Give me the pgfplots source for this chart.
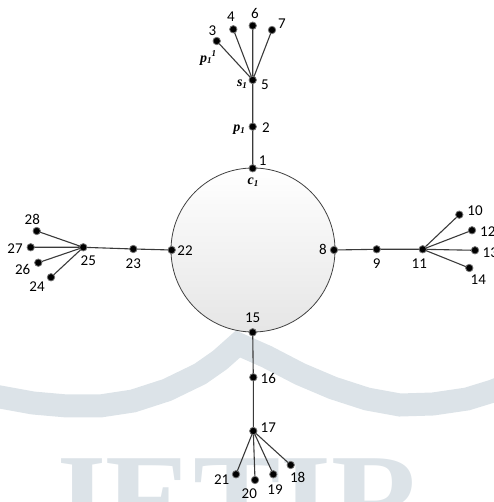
\documentclass[border=0pt]{standalone}
\usepackage{pgfplots}
\pgfplotsset{compat=1.18}
\usepackage{fontspec}
\setmainfont{Carlito}
\newfontfamily\serifit{Liberation Serif}
\definecolor{edge}{HTML}{3A3A3A}
\definecolor{wm}{HTML}{DCE3E8}
\newcommand{\lab}{\fontsize{15}{17}\selectfont}
\newcommand{\ilab}{\fontsize{14}{16}\selectfont\serifit\bfseries\itshape}
\newcommand{\sub}[1]{\raisebox{-0.25ex}{\fontsize{9}{10}\selectfont #1}}
\begin{document}
\begin{tikzpicture}
\begin{axis}[
  scale only axis, width=493pt, height=502pt,
  xmin=0, xmax=493, ymin=-502, ymax=0,
  hide axis, clip=false,
]
\path (rel axis cs:0,0) rectangle (rel axis cs:1,1);
% watermark band
\addplot[overlay, wm, line width=23pt, line join=miter, miter limit=10] coordinates {
 (-10,-395) (0,-397) (33,-403) (67,-406) (100,-406) (133,-401) (167,-390) (200,-374) (220,-360) (238,-344)
 (266.7,-356.7) (300,-374) (333,-388) (367,-399) (400,-405) (433,-404) (467,-399) (493,-391) (503,-387)};
\node[overlay, anchor=base west, text=wm, inner sep=0pt, font={\fontsize{131}{131}\selectfont\serifit\bfseries}] at (axis cs:40,-544) {JETIR};
% circle
\draw[black!75, line width=0.8pt, top color=white, bottom color=black!10] (axis cs:253,-250) circle[radius=82];
% arms
\addplot[edge, line width=1.1pt] coordinates {(252.7,-168.3) (252.7,-126.7) (252.7,-80) (216.7,-41) (252.7,-80) (233.3,-29.3) (252.7,-80) (252.7,-25.7) (252.7,-80) (272,-30)};
\addplot[edge, line width=1.1pt] coordinates {(334,-250) (376.7,-249.3) (422.7,-249.3) (459.3,-214.7) (422.7,-249.3) (472,-230.3) (422.7,-249.3) (475,-250.3) (422.7,-249.3) (469.3,-268)};
\addplot[edge, line width=1.1pt] coordinates {(171.7,-250) (133.3,-249) (83.3,-247.3) (36.7,-231) (83.3,-247.3) (30.7,-247.3) (83.3,-247.3) (38.3,-262.7) (83.3,-247.3) (51,-277.3)};
\addplot[edge, line width=1.1pt] coordinates {(252.7,-332.3) (253.3,-377.3) (253.3,-431) (236,-474.3) (253.3,-431) (255,-480) (253.3,-431) (273.3,-474.3) (253.3,-431) (290.7,-465)};
% nodes
\addplot[only marks, mark=*, mark size=3.7pt, mark options={fill=black, draw=black!55, line width=0.8pt}] coordinates {
 (252.7,-168.3) (252.7,-126.7) (252.7,-80) (216.7,-41) (233.3,-29.3) (252.7,-25.7) (272,-30)
 (334,-250) (376.7,-249.3) (422.7,-249.3) (459.3,-214.7) (472,-230.3) (475,-250.3) (469.3,-268)
 (171.7,-250) (133.3,-249) (83.3,-247.3) (36.7,-231) (30.7,-247.3) (38.3,-262.7) (51,-277.3)
 (252.7,-332.3) (253.3,-377.3) (253.3,-431) (236,-474.3) (255,-480) (273.3,-474.3) (290.7,-465)};
% labels
\begin{scope}[every node/.style={font=\lab, inner sep=0pt}]
\node at (axis cs:262.7,-161) {1};
\node at (axis cs:266,-128) {2};
\node at (axis cs:265,-85) {5};
\node at (axis cs:212.3,-31) {3};
\node at (axis cs:231,-17) {4};
\node at (axis cs:255,-13.5) {6};
\node at (axis cs:282,-23.5) {7};
\node at (axis cs:323,-249) {8};
\node at (axis cs:376.7,-264) {9};
\node at (axis cs:419.3,-264) {11};
\node at (axis cs:475,-210.5) {10};
\node[overlay, anchor=west] at (axis cs:480,-232) {12};
\node[overlay, anchor=west] at (axis cs:482.5,-253) {13};
\node at (axis cs:478.3,-279.5) {14};
\node at (axis cs:185,-251) {22};
\node at (axis cs:133.3,-264) {23};
\node at (axis cs:88.3,-261) {25};
\node at (axis cs:32.3,-219.3) {28};
\node at (axis cs:15,-248.3) {27};
\node at (axis cs:22.7,-269) {26};
\node at (axis cs:37,-287) {24};
\node at (axis cs:252.7,-317.3) {15};
\node at (axis cs:268.3,-378.3) {16};
\node at (axis cs:268.3,-427.7) {17};
\node at (axis cs:221.7,-480) {21};
\node at (axis cs:249.3,-494) {20};
\node at (axis cs:275,-490) {19};
\node at (axis cs:297.7,-477.7) {18};
\end{scope}
\begin{scope}[every node/.style={font=\ilab, inner sep=0pt}]
\node at (axis cs:253,-182.5) {c\sub{1}};
\node at (axis cs:239,-130) {p\sub{1}};
\node at (axis cs:242,-84) {s\sub{1}};
\node at (axis cs:208,-58) {p\sub{1}\raisebox{0.9ex}{\fontsize{9}{10}\selectfont 1}};
\end{scope}
\end{axis}
\end{tikzpicture}
\end{document}
